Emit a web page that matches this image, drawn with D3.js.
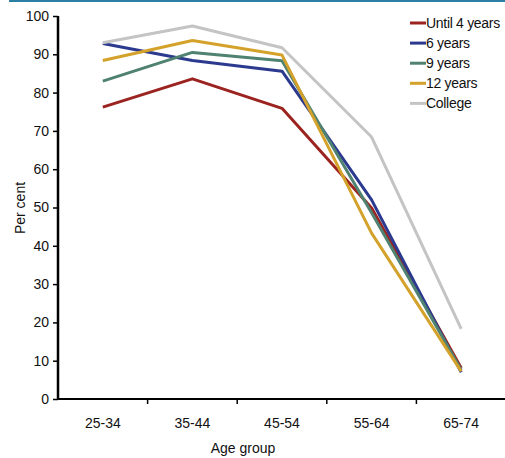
<!DOCTYPE html>
<html>
<head>
<meta charset="utf-8">
<script src="https://cdn.jsdelivr.net/npm/d3@7"></script>
<style>
  body { margin: 0; background: #fff; }
  text { font-family: "Liberation Sans", Arial, sans-serif; fill: #111; }
</style>
</head>
<body>
<div id="chart"></div>
<script>
const categories = ['25-34', '35-44', '45-54', '55-64', '65-74'];
const seriesNames = ['Until 4 years', '6 years', '9 years', '12 years', 'College'];
const until4 = [76.2, 83.6, 75.9, 49.9, 8.1];
const years6 = [92.8, 88.4, 85.6, 52.0, 7.0];
const years9 = [83.0, 90.5, 88.3, 48.6, 7.6];
const years12 = [88.4, 93.6, 89.8, 43.3, 7.2];
const college = [93.0, 97.4, 91.7, 68.4, 18.3];
const yTicks = [0, 10, 20, 30, 40, 50, 60, 70, 80, 90, 100];
const colors = ['#9b2320', '#2b3a8f', '#4f8270', '#d4a22a', '#c4c4c4'];

const series = [until4, years6, years9, years12, college];

const width = 505;
const height = 458;
const margin = { top: 16, right: 0, bottom: 59, left: 58 };

const svg = d3.select('#chart')
    .append('svg')
    .attr('width', width)
    .attr('height', height);

// top rule
svg.append('rect')
    .attr('x', 9).attr('y', 0)
    .attr('width', width - 9).attr('height', 2)
    .attr('fill', '#2b7fa3');

const xScale = d3.scaleBand()
    .domain(categories)
    .range([margin.left, width - margin.right + 1]);

const yScale = d3.scaleLinear()
    .domain([0, 100])
    .range([height - margin.bottom, margin.top]);

const line = d3.line()
    .x((d, i) => xScale(categories[i]) + xScale.bandwidth() / 2)
    .y(d => yScale(d));

svg.selectAll('.series')
    .data(series)
    .enter()
    .append('path')
    .attr('class', 'series')
    .attr('d', d => line(d))
    .attr('fill', 'none')
    .attr('stroke', (d, i) => colors[i])
    .attr('stroke-width', 3)
    .attr('stroke-linejoin', 'round');

// x axis with ticks at band edges
const xAxis = svg.append('g')
    .attr('transform', `translate(0, ${yScale(0)})`);
xAxis.append('line')
    .attr('x1', margin.left).attr('x2', width)
    .attr('stroke', '#000').attr('stroke-width', 2);
xAxis.selectAll('.tick')
    .data(categories.slice(1))
    .enter()
    .append('line')
    .attr('x1', d => xScale(d)).attr('x2', d => xScale(d))
    .attr('y1', 0).attr('y2', 5)
    .attr('stroke', '#000').attr('stroke-width', 1.5);
xAxis.selectAll('.lbl')
    .data(categories)
    .enter()
    .append('text')
    .attr('x', d => xScale(d) + xScale.bandwidth() / 2)
    .attr('y', 29)
    .attr('text-anchor', 'middle')
    .attr('font-size', 14)
    .text(d => d);

const yAxis = svg.append('g')
    .attr('transform', `translate(${margin.left}, 0)`)
    .call(d3.axisLeft(yScale).tickValues(yTicks).tickSize(5).tickPadding(4));
yAxis.select('.domain').attr('stroke-width', 2.5).attr('d', `M0,${yScale(100)}V${yScale(0)}`);
yAxis.selectAll('.tick line').attr('stroke-width', 1.5);
yAxis.selectAll('.tick text')
    .attr('font-size', 14)
    .attr('font-family', '"Liberation Sans", Arial, sans-serif')
    .attr('fill', '#111');

svg.append('text')
    .attr('x', 243).attr('y', 453)
    .attr('text-anchor', 'middle')
    .attr('font-size', 14)
    .text('Age group');

svg.append('text')
    .attr('transform', `translate(25, 208) rotate(-90)`)
    .attr('text-anchor', 'middle')
    .attr('font-size', 14)
    .text('Per cent');

const legend = svg.append('g')
    .attr('transform', 'translate(410, 23)');
const items = legend.selectAll('g')
    .data(seriesNames)
    .enter()
    .append('g')
    .attr('transform', (d, i) => `translate(0, ${i * 20.1})`);
items.append('line')
    .attr('x1', 0).attr('x2', 16)
    .attr('stroke', (d, i) => colors[i])
    .attr('stroke-width', 3);
items.append('text')
    .attr('x', 16).attr('y', 5)
    .attr('font-size', 14)
    .attr('letter-spacing', -0.3)
    .text(d => d);
</script>
</body>
</html>
